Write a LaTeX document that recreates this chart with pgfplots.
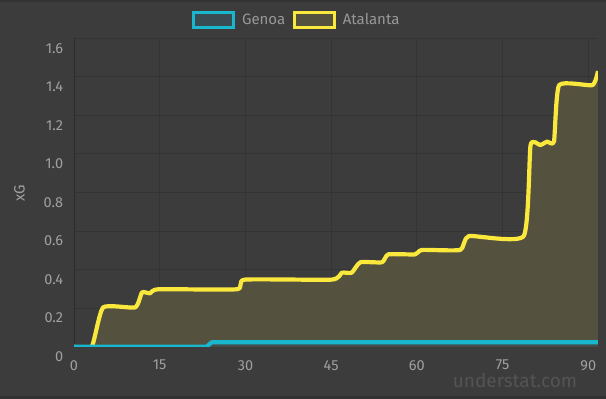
\documentclass[border=0pt]{standalone}
\usepackage{pgfplots}
\pgfplotsset{compat=1.18}
\usepackage{fontspec}
\setmainfont{Fira Sans}
\definecolor{bgc}{HTML}{3C3C3C}
\definecolor{bandc}{HTML}{333333}
\definecolor{gridc}{HTML}{343434}
\definecolor{axisc}{HTML}{2C2C2C}
\definecolor{tickc}{HTML}{A0A0A0}
\definecolor{legc}{HTML}{989898}
\definecolor{wmc}{HTML}{545454}
\definecolor{yellowc}{HTML}{FAE83C}
\definecolor{olivec}{HTML}{54523E}
\definecolor{cyanc}{HTML}{18B7CE}
\definecolor{cyanbox}{HTML}{3A4B52}
\definecolor{tealfill}{HTML}{44504F}
\begin{document}
\begin{tikzpicture}
\path[use as bounding box] (0,0) rectangle (606bp,399bp);
\fill[bgc] (0,0) rectangle (606bp,399bp);
\fill[bandc] (0,396.5bp) rectangle (606bp,399bp);
\fill[bandc] (0,0) rectangle (606bp,3bp);
\begin{axis}[
  at={(74bp,52.3bp)}, anchor=south west,
  scale only axis, width=524bp, height=308.4bp,
  xmin=0, xmax=91.7, ymin=0, ymax=1.6,
  axis lines=left, axis line style={-, draw=axisc, line width=1bp},
  xtick={0,15,30,45,60,75,90},
  xticklabels={0,15,30,45,60,75,90},
  ytick={0,0.2,0.4,0.6,0.8,1.0,1.2,1.4,1.6},
  yticklabels={0,0.2,0.4,0.6,0.8,1.0,1.2,1.4,1.6},
  major tick length=0pt,
  grid=major, major grid style={draw=gridc, line width=1bp},
  ticklabel style={font=\fontsize{14.5bp}{17bp}\selectfont, text=tickc, inner sep=0pt},
  xticklabel style={anchor=north, yshift=-13.3bp},
  yticklabel style={anchor=east, xshift=-10.7bp, yshift=-10bp},
  ylabel={xG},
  every axis y label/.style={at={(axis description cs:-0.104,0.497)}, rotate=90, anchor=center,
     font=\fontsize{15bp}{18bp}\selectfont, text=tickc},
  legend image code/.code={\draw[line width=3bp,#1] (0bp,-7.5bp) rectangle (39.6bp,7.5bp);},
  legend style={at={(axis description cs:0.4255,1.0594)}, anchor=center, draw=none, fill=none,
     font=\fontsize{15bp}{18bp}\selectfont, text=legc,
     /tikz/every odd column/.append style={column sep=5bp},
     /tikz/every even column/.append style={column sep=6bp}},
  legend columns=2,
  clip=true,
]
\addlegendimage{draw=cyanc, fill=cyanbox}
\addlegendentry{Genoa}
\addlegendimage{draw=yellowc, fill=olivec}
\addlegendentry{Atalanta}
% Atalanta fill
\addplot[forget plot, draw=none, fill=olivec, smooth, tension=0.3] coordinates {
(0,0) (3.1,0) (5.1,0.204) (10.7,0.204) (11.9,0.282) (13.3,0.277) (14.8,0.298) (28.5,0.298)
(29.9,0.348) (45.1,0.348) (46.9,0.384) (48.6,0.384) (50.1,0.438) (53.9,0.438) (55.0,0.479)
(59.7,0.479) (60.9,0.502) (67.6,0.502) (69.1,0.574) (78.7,0.574) (79.9,1.046) (81.6,1.046)
(82.8,1.064) (84.0,1.064) (84.9,1.357) (90.7,1.357) (91.7,1.43)
} \closedcycle;
% Genoa fill
\addplot[forget plot, draw=none, fill=tealfill] coordinates {
(0,0) (23.2,0) (24.1,0.023) (91.7,0.023)
} \closedcycle;
% Atalanta line
\addplot[forget plot, draw=yellowc, line width=4.2bp, line join=round, smooth, tension=0.3] coordinates {
(0,0) (3.1,0) (5.1,0.204) (10.7,0.204) (11.9,0.282) (13.3,0.277) (14.8,0.298) (28.5,0.298)
(29.9,0.348) (45.1,0.348) (46.9,0.384) (48.6,0.384) (50.1,0.438) (53.9,0.438) (55.0,0.479)
(59.7,0.479) (60.9,0.502) (67.6,0.502) (69.1,0.574) (78.7,0.574) (79.9,1.046) (81.6,1.046)
(82.8,1.064) (84.0,1.064) (84.9,1.357) (90.7,1.357) (91.7,1.43)
};
% Genoa line
\addplot[forget plot, draw=cyanc, line width=4.2bp, line join=round] coordinates {
(0,0) (23.2,0) (24.1,0.023) (91.7,0.023)
};
\end{axis}
\node[anchor=base, text=wmc, font=\fontsize{19bp}{22bp}\selectfont, inner sep=0pt] at (515bp,11.7bp) {understat.com};
\end{tikzpicture}
\end{document}
